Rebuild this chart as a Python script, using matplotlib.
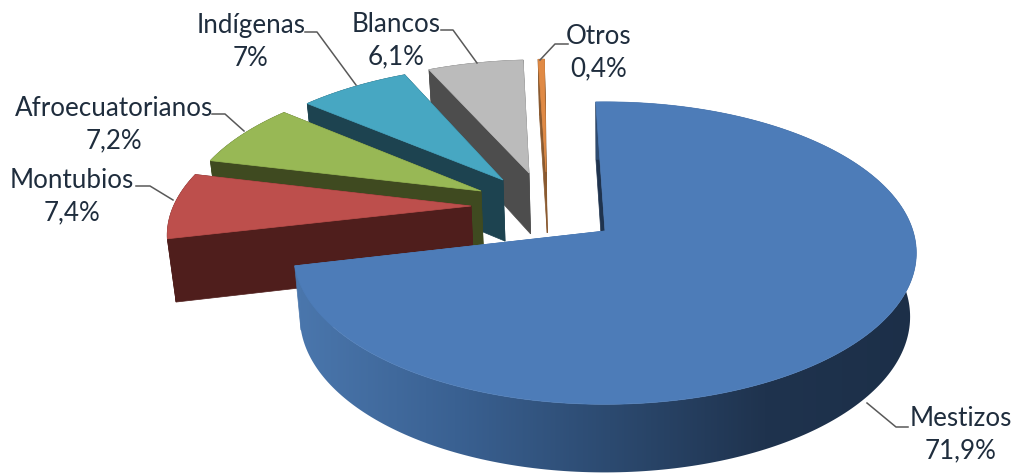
import numpy as np
import matplotlib
matplotlib.use('Agg')
import matplotlib.pyplot as plt
from matplotlib.colors import LinearSegmentedColormap
from matplotlib.patches import Polygon

# clockwise order starting at the top, as in the chart
names = ['Mestizos', 'Montubios', 'Afroecuatorianos', 'Indígenas', 'Blancos', 'Otros']
shares = [71.9, 7.4, 7.2, 7.0, 6.1, 0.4]

top_colors = ['#4d7cb8', '#bd4f4c', '#98b855', '#47a7c2', '#bbbbbb', '#e08a45']
wall_colors = ['#1f334e', '#4f1e1c', '#3f4a20', '#1d4350', '#4d4d4d', '#8a5a30']

# where each exploded slice has its tip, in pixels, and its radius factor
tips = [(605, 231), (471, 206), (481, 191), (503, 180), (529, 173), (546, 172)]
reach = [1.0, 0.99, 0.985, 0.98, 0.975, 0.975]

label_pos = [(961, 418), (72, 180), (114, 108), (251, 25), (396, 24), (599, 36)]
leaders = [
    [(908, 427), (896, 427), (867, 403)],
    [(136, 186), (150, 186), (173, 200)],
    [(212, 114), (225, 114), (244, 131)],
    [(305, 32), (317, 32), (356, 85)],
    [(441, 30), (453, 30), (477, 63)],
    [(568, 44), (555, 44), (540, 60)],
]

# camera settings of the fake 3d
cx, cy = 606, 231
R = 308
a = 148
k = 0.146
shrink = 0.98
start = 92.0


def project(gx, gy):
    w = 1 + k * gy
    return cx + R * gx / w, cy - a * gy / w, w


def ground(tip):
    t = (cy - tip[1]) / a
    gy = t / (1 - k * t)
    return (tip[0] - cx) * (1 + k * gy) / R, gy


def drop(x, y, w):
    depth = 63 + 35 * (1 - w)
    return cx + (x - cx) * shrink, y + depth


fig = plt.figure(figsize=(10.14, 4.74), dpi=100)
ax = fig.add_axes([0, 0, 1, 1])

# wall colour of the big slice runs from light on the left to dark on the right
blue_wall = LinearSegmentedColormap.from_list(
    'wall', ['#4a76ac', '#3a6192', '#2c4a70', '#1f334e', '#1c2f48'])

ends = start - np.cumsum(shares) * 3.6
begins = np.r_[start, ends[:-1]]

# back slices first, the big one last
z = 1
for i in range(len(shares) - 1, -1, -1):
    gx, gy = ground(tips[i])
    th = np.radians(np.linspace(begins[i], ends[i], max(int(shares[i] * 3.6), 3) + 1))
    ox, oy, ow = project(gx + reach[i] * np.cos(th), gy + reach[i] * np.sin(th))
    tx, ty, tw = project(gx, gy)
    bx, by = drop(ox, oy, ow)
    tbx, tby = drop(tx, ty, tw)

    # the two cut faces
    for j in (0, -1):
        c = wall_colors[i]
        if i == 0 and j == -1:
            c = blue_wall(0.0)
        face = [(tx, ty), (ox[j], oy[j]), (bx[j], by[j]), (tbx, tby)]
        ax.add_patch(Polygon(face, fc=c, ec=c, lw=0.5, zorder=z))

    # outer wall, the big slice gets a gradient clipped to the wall shape
    wall = list(zip(ox, oy)) + list(zip(bx[::-1], by[::-1]))
    if i == 0:
        clip = Polygon(wall, fc='none', ec='none', transform=ax.transData)
        ax.add_patch(clip)
        im = ax.imshow(np.linspace(0, 1, 256).reshape(1, -1), cmap=blue_wall, aspect='auto',
                       extent=(300, 920, 474, 0), zorder=z + 1)
        im.set_clip_path(clip)
    else:
        ax.add_patch(Polygon(wall, fc=wall_colors[i], ec=wall_colors[i], lw=0.5, zorder=z + 1))

    pts = [(tx, ty)] + list(zip(ox, oy))
    ax.add_patch(Polygon(pts, fc=top_colors[i], ec=top_colors[i], lw=0.5, zorder=z + 2))
    z += 3

for i in range(len(shares)):
    xs, ys = zip(*leaders[i])
    ax.plot(xs, ys, color='#595959', lw=1.1, zorder=z)
    value = '{:g}%'.format(shares[i]).replace('.', ',')
    ax.text(label_pos[i][0], label_pos[i][1], names[i], ha='center', va='center',
            family='Lato', fontsize=18.7, color='#1f2d3d', zorder=z)
    ax.text(label_pos[i][0], label_pos[i][1] + 33, value, ha='center', va='center',
            family='Lato', fontsize=18.7, color='#1f2d3d', zorder=z)

ax.set_xlim(0, 1014)
ax.set_ylim(474, 0)
ax.axis('off')

fig.savefig('out.png', dpi=100)
